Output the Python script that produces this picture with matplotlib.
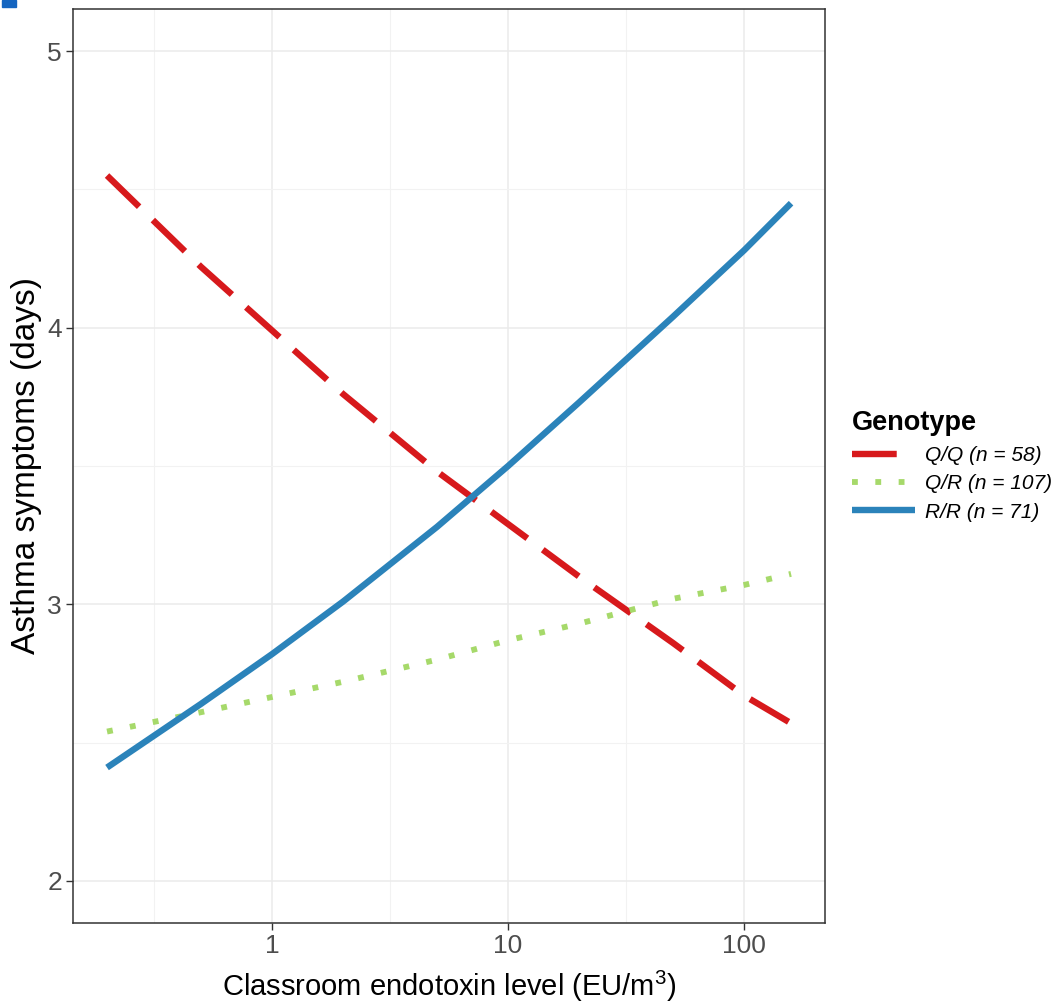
import matplotlib
matplotlib.use("Agg")
import matplotlib.pyplot as plt
from matplotlib.patches import Rectangle
from matplotlib.ticker import FixedLocator, NullFormatter

plt.rcParams['mathtext.default'] = 'regular'

# Data
endotoxin = [0.2, 0.5, 1, 2, 5, 10, 20, 50, 100, 158]
qq = [4.55, 4.22, 3.99, 3.76, 3.48, 3.29, 3.10, 2.86, 2.67, 2.57]
qr = [2.54, 2.61, 2.665, 2.72, 2.80, 2.87, 2.93, 3.02, 3.07, 3.11]
rr = [2.41, 2.64, 2.82, 3.01, 3.28, 3.50, 3.73, 4.04, 4.28, 4.45]
labels = ["Q/Q (n = 58)", "Q/R (n = 107)", "R/R (n = 71)"]
colors = ["#d7191c", "#a6d96a", "#2b83ba"]
xticks = [1, 10, 100]
yticks = [2, 3, 4, 5]

W, H = 1058, 1006
fig = plt.figure(figsize=(W / 100, H / 100), dpi=100)
ax = fig.add_axes([73 / W, 1 - 923 / H, (825 - 73) / W, (923 - 9) / H])

font = 'Liberation Sans'

ax.set_xscale('log')
ax.set_xlim(0.1435, 220)
ax.set_ylim(1.848, 5.152)

ax.plot(endotoxin, qq, color=colors[0], lw=4.6, dashes=(7, 3),
        dash_capstyle='butt', solid_capstyle='butt', label=labels[0], zorder=3)
ax.plot(endotoxin, qr, color=colors[1], lw=4.2, dashes=(1, 3),
        dash_capstyle='butt', label=labels[1], zorder=3)
ax.plot(endotoxin, rr, color=colors[2], lw=4.6, solid_capstyle='butt',
        label=labels[2], zorder=3)

ax.xaxis.set_major_locator(FixedLocator(xticks))
ax.xaxis.set_minor_locator(FixedLocator([10 ** -0.5, 10 ** 0.5, 10 ** 1.5]))
ax.xaxis.set_minor_formatter(NullFormatter())
ax.set_xticks(xticks)
ax.set_xticklabels([str(v) for v in xticks])
ax.yaxis.set_major_locator(FixedLocator(yticks))
ax.yaxis.set_minor_locator(FixedLocator([2.5, 3.5, 4.5]))
ax.set_yticklabels([str(v) for v in yticks])

ax.grid(True, which='major', color='#ebebeb', lw=1.1, zorder=0)
ax.grid(True, which='minor', color='#f2f2f2', lw=0.8, zorder=0)
ax.set_axisbelow(True)

ax.tick_params(which='major', length=5, width=1, color='#333333',
               labelcolor='#4d4d4d', labelsize=19, pad=3)
ax.tick_params(which='minor', length=0)
for lab in ax.get_xticklabels() + ax.get_yticklabels():
    lab.set_fontfamily(font)

for s in ax.spines.values():
    s.set_color('#333333')
    s.set_linewidth(1.1)

ax.set_xlabel('Classroom endotoxin level (EU/m$^{3}$)', fontsize=21,
              fontfamily=font, color='black', labelpad=8)
ax.set_ylabel('Asthma symptoms (days)', fontsize=24,
              fontfamily=font, color='black', labelpad=4)

leg = ax.legend(loc='center left', bbox_to_anchor=(852 / W, 1 - 466 / H),
                bbox_transform=fig.transFigure, frameon=False,
                title='Genotype', handlelength=3.0, handletextpad=0.5,
                labelspacing=0.45, borderaxespad=0, borderpad=0,
                prop={'family': font, 'style': 'italic', 'size': 15},
                title_fontproperties={'family': font, 'weight': 'bold', 'size': 19.5})
leg._legend_box.align = 'left'

fig.patches.append(Rectangle((2 / W, 1 - 7 / H), 14 / W, 7 / H,
                             transform=fig.transFigure, color='#1565c0'))

fig.savefig('out.png', dpi=100)
